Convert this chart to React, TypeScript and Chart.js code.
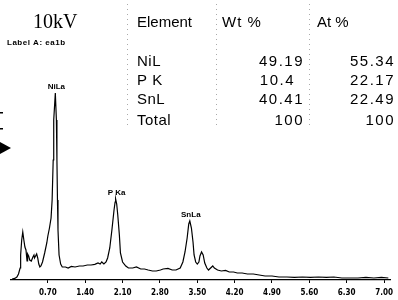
import React, { useEffect, useRef } from 'react';
import { Chart, registerables } from 'chart.js';

Chart.register(...registerables);

// Spectrum: energy (keV) and counts
const energyKeV = [
  0.03, 0.08, 0.12, 0.15, 0.18, 0.19, 0.21, 0.23, 0.25, 0.27, 0.29, 0.31, 0.32, 0.34, 0.36, 0.39,
  0.42, 0.44, 0.45, 0.47, 0.49, 0.51, 0.53, 0.55, 0.57, 0.60, 0.64, 0.68, 0.70, 0.73, 0.76, 0.78,
  0.80, 0.81, 0.84, 0.86, 0.87, 0.88, 0.89, 0.91, 0.94, 0.97, 1.03, 1.08, 1.14, 1.21, 1.29, 1.36,
  1.44, 1.51, 1.58, 1.64, 1.68, 1.71, 1.75, 1.79, 1.82, 1.86, 1.90, 1.94, 1.96, 1.97, 1.99, 2.01,
  2.04, 2.06, 2.10, 2.16, 2.21, 2.29, 2.36, 2.44, 2.51, 2.58, 2.66, 2.73, 2.81, 2.86, 2.95, 3.03,
  3.10, 3.18, 3.23, 3.27, 3.31, 3.34, 3.36, 3.39, 3.42, 3.44, 3.47, 3.50, 3.53, 3.55, 3.58, 3.61,
  3.64, 3.68, 3.71, 3.75, 3.79, 3.82, 3.88, 3.95, 4.03, 4.10, 4.18, 4.25, 4.34, 4.44, 4.55, 4.66,
  4.77, 4.90, 5.03, 5.18, 5.32, 5.47, 5.62, 5.77, 5.92, 6.06, 6.21, 6.36, 6.51, 6.66, 6.81, 6.95,
  7.08,
];
const counts = [
  5, 8, 15, 30, 60, 125, 200, 240, 200, 165, 150, 95, 130, 120, 100, 95,
  115, 125, 110, 120, 130, 110, 80, 65, 70, 90, 135, 185, 220, 260, 310, 400,
  600, 800, 935, 800, 600, 400, 250, 125, 80, 65, 65, 60, 68, 65, 70, 70,
  75, 75, 78, 85, 80, 90, 80, 90, 110, 160, 250, 350, 390, 405, 380, 325,
  225, 135, 90, 70, 60, 60, 65, 55, 55, 50, 45, 45, 50, 55, 58, 50,
  50, 60, 90, 140, 210, 280, 295, 260, 190, 125, 90, 80, 90, 120, 140, 125,
  85, 60, 50, 60, 70, 60, 50, 45, 48, 40, 40, 35, 35, 30, 30, 25,
  20, 20, 15, 15, 13, 15, 13, 15, 13, 15, 10, 10, 10, 13, 10, 13,
  10,
];
const tickValues = [0.7, 1.4, 2.1, 2.8, 3.5, 4.2, 4.9, 5.6, 6.3, 7.0];

const peakNames = ['NiLa', 'P Ka', 'SnLa'];
const peakEnergy = [0.84, 1.97, 3.36];
const peakCounts = [935, 405, 295];

const voltageLabel = '10kV';
const sampleLabel = 'Label A: ea1b';
const tableHeader = ['Element', 'Wt %', 'At %'];
const elements = ['NiL', 'P K', 'SnL', 'Total'];
const wtPercent = ['49.19', '10.4', '40.41', '100'];
const atPercent = ['55.34', '22.17', '22.49', '100'];

const rowBaselines = [66, 84.5, 104, 125];

const overlayPlugin = {
  id: 'overlay',
  afterDraw(chart: any) {
    const ctx = chart.ctx as CanvasRenderingContext2D;
    const xs = chart.scales.x;
    const ys = chart.scales.y;
    ctx.save();
    ctx.fillStyle = '#000';
    ctx.textBaseline = 'alphabetic';

    // header texts
    ctx.textAlign = 'left';
    ctx.font = '20px "Liberation Serif", serif';
    ctx.fillText(voltageLabel, 33, 28);
    ctx.font = 'bold 8px "Liberation Sans", sans-serif';
    (ctx as any).letterSpacing = '0.5px';
    ctx.fillText(sampleLabel, 7, 45);
    (ctx as any).letterSpacing = '0px';

    // faint dotted table rules
    ctx.strokeStyle = '#aaa';
    ctx.lineWidth = 1;
    ctx.setLineDash([1, 4]);
    [127, 216, 309].forEach((x) => {
      ctx.beginPath();
      ctx.moveTo(x + 0.5, 4);
      ctx.lineTo(x + 0.5, 128);
      ctx.stroke();
    });
    ctx.setLineDash([]);

    // table
    ctx.font = '15px "Liberation Sans", Arial, sans-serif';
    ctx.textAlign = 'left';
    ctx.fillText(tableHeader[0], 137, 27);
    (ctx as any).letterSpacing = '1px';
    ctx.fillText(tableHeader[1], 222, 27);
    (ctx as any).letterSpacing = '0px';
    ctx.fillText(tableHeader[2], 317, 27);
    elements.forEach((el, i) => {
      (ctx as any).letterSpacing = '0.5px';
      ctx.textAlign = 'left';
      ctx.fillText(el, 137, rowBaselines[i]);
      (ctx as any).letterSpacing = '1.5px';
      ctx.textAlign = 'right';
      const wtRight = wtPercent[i] === '10.4' ? 295 : 304;
      ctx.fillText(wtPercent[i], wtRight, rowBaselines[i]);
      ctx.fillText(atPercent[i], 395, rowBaselines[i]);
    });
    (ctx as any).letterSpacing = '0px';

    // peak labels
    ctx.font = 'bold 8px "Liberation Sans", sans-serif';
    ctx.textAlign = 'center';
    ctx.textBaseline = 'bottom';
    peakNames.forEach((name, i) => {
      ctx.fillText(name, xs.getPixelForValue(peakEnergy[i]) + 1, ys.getPixelForValue(peakCounts[i]) - 2);
    });

    // left marker
    ctx.beginPath();
    ctx.moveTo(0, 142);
    ctx.lineTo(11, 148);
    ctx.lineTo(0, 154);
    ctx.closePath();
    ctx.fill();
    ctx.fillRect(0, 112, 3, 1.5);
    ctx.fillRect(0, 128, 3, 1.5);

    ctx.restore();
  },
};

export default function App() {
  const canvasRef = useRef<HTMLCanvasElement | null>(null);

  useEffect(() => {
    document.body.style.margin = '0';
    const canvas = canvasRef.current;
    if (!canvas) return;
    const chart = new Chart(canvas, {
      type: 'line',
      data: {
        datasets: [
          {
            data: energyKeV.map((e, i) => ({ x: e, y: counts[i] })),
            borderColor: '#000',
            borderWidth: 1.2,
            pointRadius: 0,
            tension: 0,
            fill: false,
          },
        ],
      },
      options: {
        animation: false,
        responsive: false,
        devicePixelRatio: 1,
        layout: { padding: { left: 10.5, right: 3, top: 0, bottom: 0 } },
        plugins: { legend: { display: false }, tooltip: { enabled: false } },
        scales: {
          x: {
            type: 'linear',
            min: 0,
            max: 7.12,
            afterBuildTicks: (s: any) => {
              s.ticks = tickValues.map((v) => ({ value: v }));
            },
            afterFit: (s: any) => {
              s.height = 20;
            },
            ticks: {
              autoSkip: false,
              maxRotation: 0,
              padding: 5,
              color: '#000',
              font: { family: '"DejaVu Sans Condensed", "DejaVu Sans", sans-serif', size: 8, weight: 'bold' },
              callback: (v: any) => Number(v).toFixed(2),
            },
            grid: { display: true, drawOnChartArea: false, tickLength: 3, color: '#000' },
            border: { display: true, color: '#000', width: 1.2 },
          },
          y: {
            display: false,
            min: 0,
            max: 1400,
          },
        },
      },
      plugins: [overlayPlugin],
    });
    return () => chart.destroy();
  }, []);

  return (
    <div style={{ width: 398, height: 300, position: 'relative', background: '#fff' }}>
      <canvas ref={canvasRef} width={398} height={300} style={{ display: 'block' }} />
    </div>
  );
}
